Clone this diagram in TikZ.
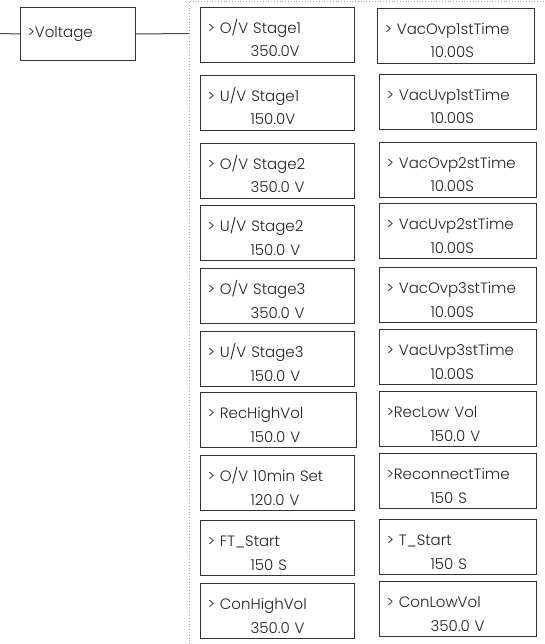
\documentclass[tikz,border=0pt]{standalone}
\usepackage{fontspec}
\setmainfont{Poppins}[UprightFont=* Light]
\usepackage{tikz}
\usetikzlibrary{positioning}
\usepackage{xcolor}
\definecolor{boxline}{HTML}{333333}
\definecolor{wire}{HTML}{4E4242}
\definecolor{ink}{HTML}{222222}
\definecolor{dots}{HTML}{A8A8A8}

\begin{document}
\begin{tikzpicture}[x=1pt, y=-1pt,
  menu/.style={draw=boxline, line width=1pt, anchor=north west, text=ink,
    inner xsep=7pt, inner ysep=0pt, align=left, text width=140pt,
    text height=26pt, text depth=29pt, font=\fontsize{15}{23.5}\selectfont},
  wide/.style={menu, text width=143pt},
  top/.style={draw=boxline, line width=1pt, anchor=north west, text=ink,
    minimum width=115pt, minimum height=53pt, inner xsep=7pt, text width=101pt,
    align=left, font=\fontsize{15}{17}\selectfont}
]
  \useasboundingbox (0,0) rectangle (544,644);
  \draw[dots, dotted, line width=0.8pt] (189,644) -- (189,1) -- (544,1);

  \node[top] (volt) at (20,7) {>Voltage};
  \coordinate (in) at (0,33.5);
  \coordinate (bus) at (189,33.5);
  \draw[wire, line width=1pt] (in) -- (volt.west);
  \draw[wire, line width=1pt] (volt.east) -- (bus);

  % left column
  \node[menu] (ov1) at (200,7) {> O/V Stage1\\\hspace*{43pt}350.0V};
  \node[menu] (uv1) at (200,75) {> U/V Stage1\\\hspace*{43pt}150.0V};
  \node[menu] (ov2) at (200,143) {> O/V Stage2\\\hspace*{43pt}350.0 V};
  \node[menu] (uv2) at (200,205) {> U/V Stage2\\\hspace*{43pt}150.0 V};
  \node[menu] (ov3) at (200,268) {> O/V Stage3\\\hspace*{43pt}350.0 V};
  \node[menu] (uv3) at (200,331) {> U/V Stage3\\\hspace*{43pt}150.0 V};
  \node[menu, text width=142pt] (rechigh) at (200,392) {> RecHighVol\\\hspace*{43pt}150.0 V};
  \node[menu] (ovten) at (200,455) {> O/V 10min Set\\\hspace*{43pt}120.0 V};
  \node[menu] (ftstart) at (200,520) {> FT\_Start\\\hspace*{43pt}150 S};
  \node[menu] (conhigh) at (200,583) {> ConHighVol\\\hspace*{43pt}350.0 V};

  % right column
  \node[wide] (ovt1) at (377,8) {> VacOvp1stTime\\\hspace*{46pt}10.00S};
  \node[wide] (uvt1) at (379,74) {> VacUvp1stTime\\\hspace*{44pt}10.00S};
  \node[wide] (ovt2) at (379,142) {> VacOvp2stTime\\\hspace*{44pt}10.00S};
  \node[wide] (uvt2) at (379,203) {> VacUvp2stTime\\\hspace*{44pt}10.00S};
  \node[wide] (ovt3) at (379,267) {> VacOvp3stTime\\\hspace*{44pt}10.00S};
  \node[wide] (uvt3) at (379,329) {> VacUvp3stTime\\\hspace*{44pt}10.00S};
  \node[wide] (reclow) at (379,391) {>RecLow Vol\\\hspace*{44pt}150.0 V};
  \node[wide] (reconn) at (379,453) {>ReconnectTime\\\hspace*{44pt}150 S};
  \node[wide] (tstart) at (379,519) {> T\_Start\\\hspace*{44pt}150 S};
  \node[wide] (conlow) at (379,581) {> ConLowVol\\\hspace*{44pt}350.0 V};
\end{tikzpicture}
\end{document}
